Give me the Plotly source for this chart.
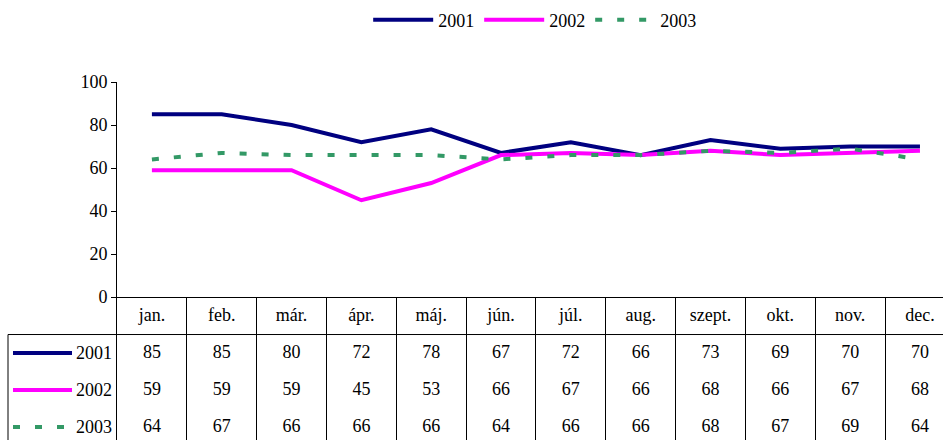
import plotly.graph_objects as go

months = ["jan.", "feb.", "már.", "ápr.", "máj.", "jún.", "júl.", "aug.", "szept.", "okt.", "nov.", "dec."]
years = ["2001", "2002", "2003"]
values_2001 = [85, 85, 80, 72, 78, 67, 72, 66, 73, 69, 70, 70]
values_2002 = [59, 59, 59, 45, 53, 66, 67, 66, 68, 66, 67, 68]
values_2003 = [64, 67, 66, 66, 66, 64, 66, 66, 68, 67, 69, 64]

series = [values_2001, values_2002, values_2003]
colors = ["#000080", "#ff00ff", "#339966"]
dashes = ["solid", "solid", "7px,15px"]

W, H = 943, 440
FONT = "Liberation Serif, Times New Roman, Tinos, DejaVu Serif, serif"
x_left = 117 / W
split = (H - 297) / H
# the last column runs past the right edge of the picture
x_range = [-0.5, 11.33]

fig = go.Figure()

for name, vals, color, dash in zip(years, series, colors, dashes):
    fig.add_trace(go.Scatter(
        x=months, y=vals, name=name, mode="lines",
        line=dict(color=color, width=4, dash=dash),
        xaxis="x", yaxis="y",
    ))

# data table below the plot (column index on a linear axis so the grid sits on cell borders)
col_idx = list(range(len(months)))
table_x, table_y, table_text = [], [], []
for i, m in zip(col_idx, months):
    table_x.append(i)
    table_y.append(0)
    table_text.append(m)
for row, vals in enumerate(series, start=1):
    for i, v in zip(col_idx, vals):
        table_x.append(i)
        table_y.append(row)
        table_text.append(str(v))

fig.add_trace(go.Scatter(
    x=table_x, y=table_y, text=table_text, mode="text",
    textfont=dict(size=18, color="black"),
    showlegend=False, hoverinfo="skip", cliponaxis=False,
    xaxis="x2", yaxis="y2",
))

shapes = [
    dict(type="line", xref="paper", yref="y2", x0=8 / W, x1=1, y0=0.5, y1=0.5,
         line=dict(color="black", width=1)),
    dict(type="line", xref="paper", yref="y2", x0=8 / W, x1=8 / W, y0=0.5, y1=3.4,
         line=dict(color="black", width=1)),
]
annotations = []
for row, (name, color, dash) in enumerate(zip(years, colors, dashes), start=1):
    shapes.append(dict(type="line", xref="paper", yref="y2", x0=13 / W, x1=72 / W, y0=row, y1=row,
                       line=dict(color=color, width=4, dash=dash)))
    annotations.append(dict(text=name, xref="paper", yref="y2", x=74 / W, y=row,
                            xanchor="left", yanchor="middle", showarrow=False,
                            font=dict(size=18, color="black")))

fig.update_layout(
    width=W, height=H,
    margin=dict(l=0, r=0, t=0, b=0, autoexpand=False),
    paper_bgcolor="white", plot_bgcolor="white",
    font=dict(family=FONT, size=18, color="black"),
    showlegend=True,
    legend=dict(orientation="h", x=0.567, y=1 - 20 / H, xanchor="center", yanchor="middle",
                itemwidth=60, font=dict(size=18), bgcolor="rgba(0,0,0,0)",
                tracegroupgap=0),
    xaxis=dict(domain=[x_left, 1], anchor="y", showticklabels=False, ticks="",
               showline=True, linecolor="black", linewidth=1, showgrid=False,
               categoryorder="array", categoryarray=months, range=x_range),
    yaxis=dict(domain=[split, 1 - 82 / H], range=[0, 100], dtick=20, anchor="x",
               showline=True, linecolor="black", linewidth=1, ticks="outside", ticklen=5,
               tickcolor="black", showgrid=False, zeroline=False,
               tickfont=dict(size=18)),
    xaxis2=dict(domain=[x_left, 1], anchor="y2", type="linear", range=x_range,
                tickmode="array", tickvals=[i + 0.5 for i in col_idx],
                showgrid=True, gridcolor="black", gridwidth=1, zeroline=False,
                showticklabels=False, ticks="", showline=False),
    yaxis2=dict(domain=[0, split], range=[3.35, -0.514], anchor="x2",
                showline=True, linecolor="black", linewidth=1, showgrid=False,
                showticklabels=False, ticks="", zeroline=False),
    shapes=shapes,
    annotations=annotations,
)

fig.write_html("out.html", config={"displayModeBar": False},
               post_script="document.body.style.margin='0';")
